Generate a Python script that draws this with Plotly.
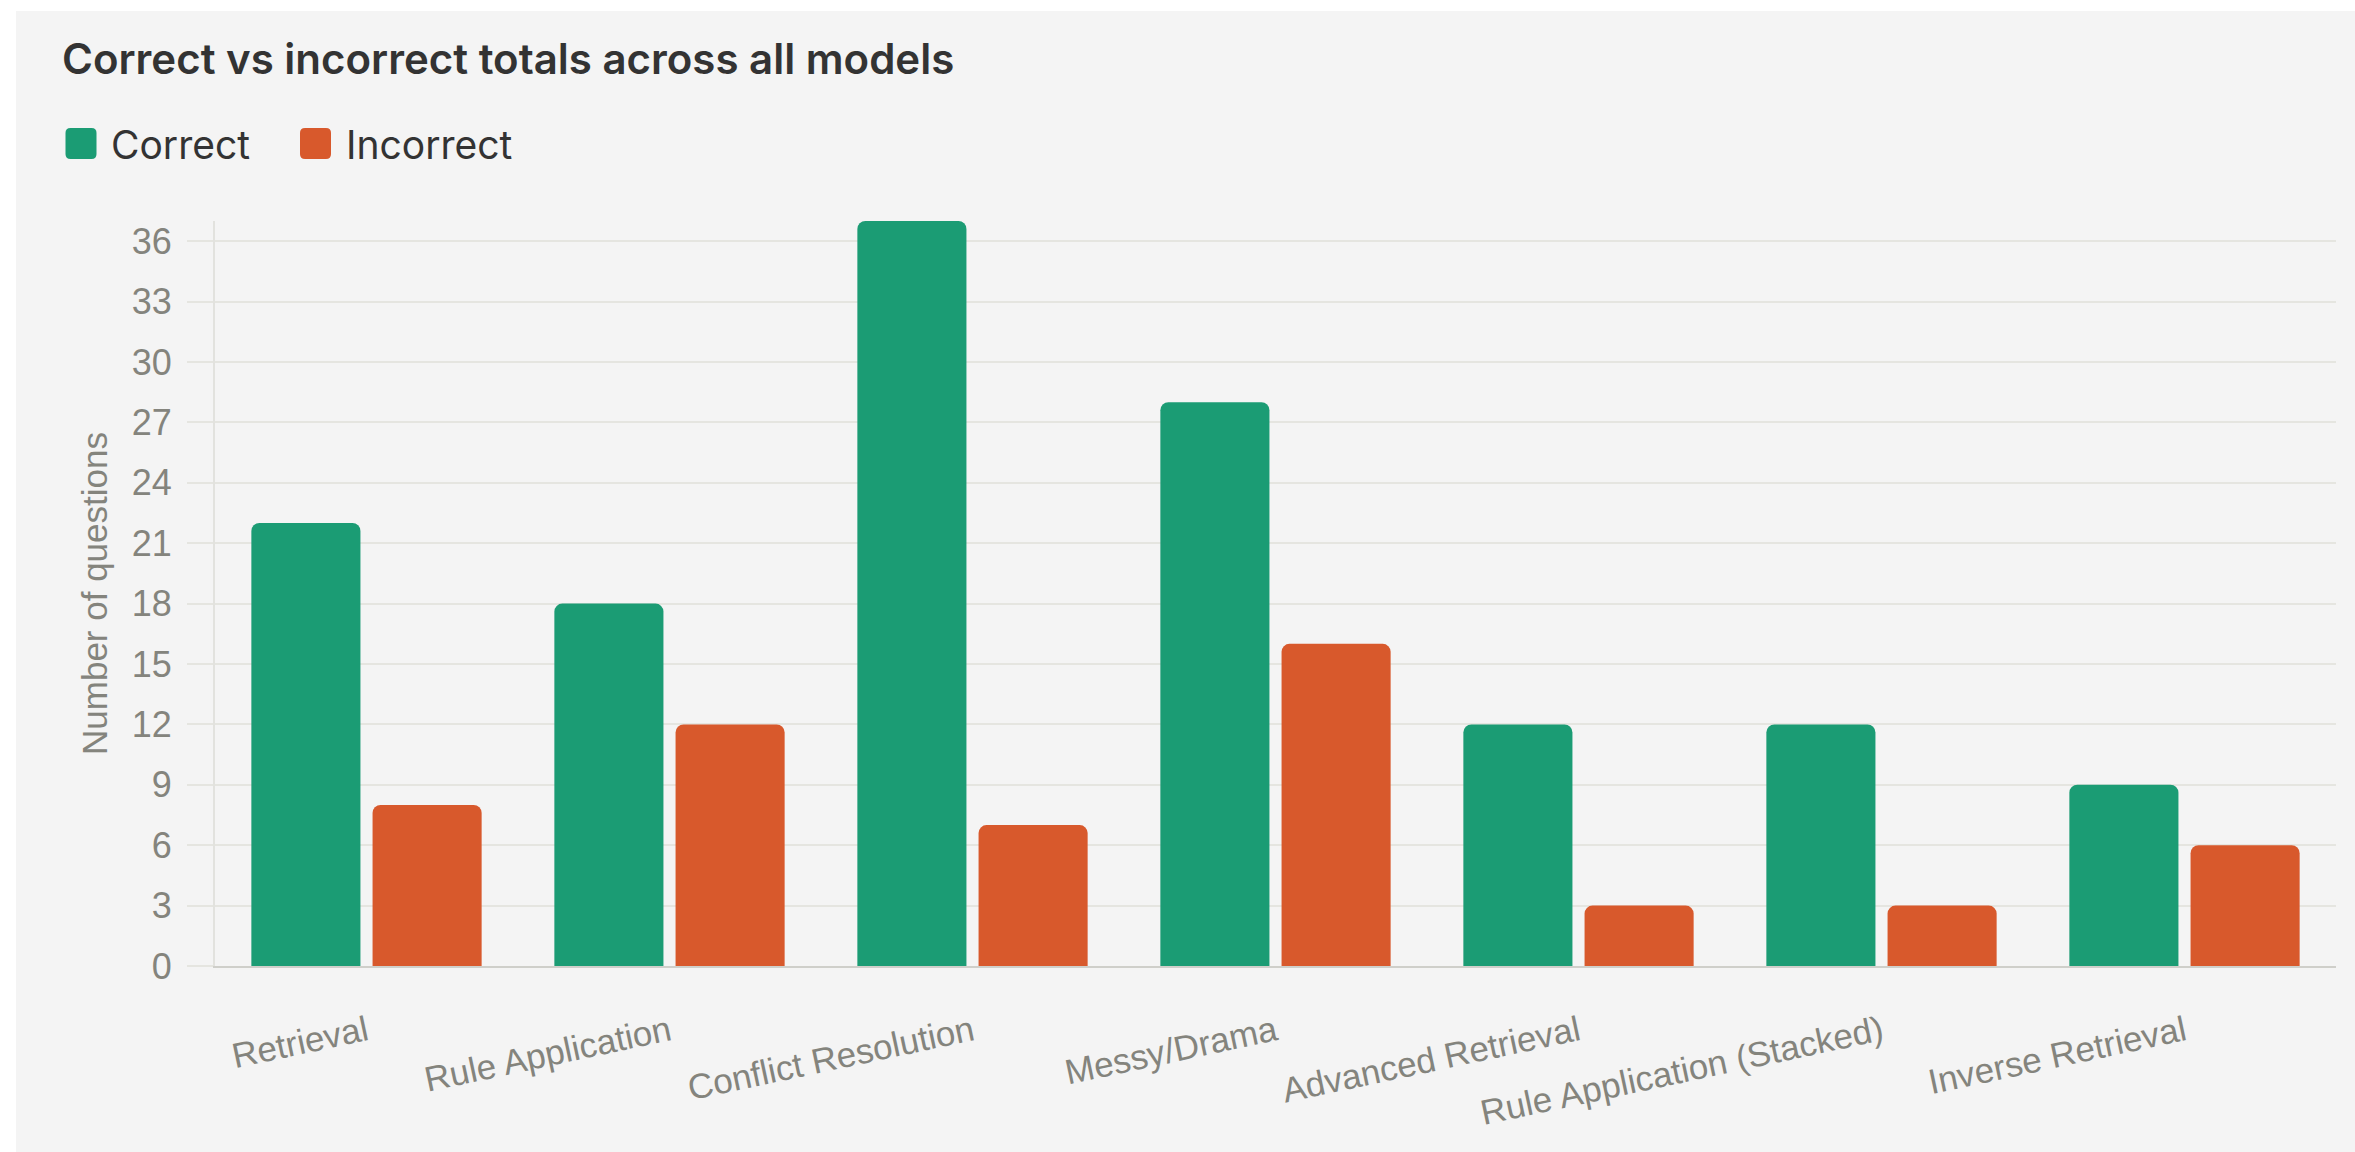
import plotly.graph_objects as go

# Question categories and per-outcome totals summed over every model
categories = [
    "Retrieval",
    "Rule Application",
    "Conflict Resolution",
    "Messy/Drama",
    "Advanced Retrieval",
    "Rule Application (Stacked)",
    "Inverse Retrieval",
]
correct = [22, 18, 37, 28, 12, 12, 9]
incorrect = [8, 12, 7, 16, 3, 3, 6]
y_ticks = [0, 3, 6, 9, 12, 15, 18, 21, 24, 27, 30, 33, 36]

GREEN = "#1b9c74"
ORANGE = "#d8592c"
PANEL = "#f4f4f4"
GRID = "#e5e5e0"
TICK_TEXT = "#84847d"
DARK = "#333333"

W, H = 2355, 1152
M_L, M_R, M_T, M_B = 215, 19, 221, 186
PLOT_W = W - M_L - M_R
PLOT_H = H - M_T - M_B


def px_x(px):
    """Page pixel column -> paper x."""
    return (px - M_L) / PLOT_W


def px_y(py):
    """Page pixel row (from top) -> paper y."""
    return (H - M_B - py) / PLOT_H


fig = go.Figure()
fig.add_trace(go.Bar(name="Correct", x=categories, y=correct,
                     marker=dict(color=GREEN, cornerradius=8, line=dict(width=0))))
fig.add_trace(go.Bar(name="Incorrect", x=categories, y=incorrect,
                     marker=dict(color=ORANGE, cornerradius=8, line=dict(width=0))))

SANS = "Liberation Sans, Arial, Helvetica, sans-serif"

fig.update_layout(
    width=W, height=H,
    margin=dict(l=M_L, r=M_R, t=M_T, b=M_B, pad=0),
    paper_bgcolor=PANEL,
    plot_bgcolor=PANEL,
    showlegend=False,
    barmode="group",
    bargap=0.2,
    bargroupgap=0.1,
    xaxis=dict(
        type="category",
        showgrid=False,
        showline=True, linecolor="#cfcfca", linewidth=2,
        ticks="",
        tickangle=-12,
        tickfont=dict(family=SANS, size=35, color=TICK_TEXT),
        ticklabelstandoff=30,
    ),
    yaxis=dict(
        range=[0, 37],
        tickvals=y_ticks,
        showgrid=True, gridcolor=GRID, gridwidth=2,
        zeroline=False,
        showline=True, linecolor="#e2e2de", linewidth=2,
        ticks="outside", ticklen=26, tickwidth=2, tickcolor=GRID,
        tickfont=dict(family=SANS, size=36, color=TICK_TEXT),
        ticklabelstandoff=8,
        title=dict(text="Number of questions", standoff=14,
                   font=dict(family=SANS, size=35, color=TICK_TEXT)),
    ),
)

# White frame strips along the top and left edges of the page
fig.add_shape(type="rect", xref="paper", yref="paper",
              x0=px_x(-40), x1=px_x(W + 40), y0=px_y(11), y1=px_y(-40),
              fillcolor="white", line=dict(width=0), layer="above")
fig.add_shape(type="rect", xref="paper", yref="paper",
              x0=px_x(-40), x1=px_x(16), y0=px_y(H + 40), y1=px_y(-40),
              fillcolor="white", line=dict(width=0), layer="above")

# Chart heading
fig.add_annotation(text="Correct vs incorrect totals across all models",
                   xref="paper", yref="paper", x=px_x(60), y=px_y(59),
                   xanchor="left", yanchor="middle", showarrow=False,
                   font=dict(family="Inter, Noto Sans, sans-serif", size=42,
                             color=DARK, weight=600))

# Legend swatches (rounded squares) and labels
r, s = 5, 15.5
swatch = (f"M {-s+r},{-s} L {s-r},{-s} Q {s},{-s} {s},{-s+r} L {s},{s-r} "
          f"Q {s},{s} {s-r},{s} L {-s+r},{s} Q {-s},{s} {-s},{s-r} "
          f"L {-s},{-s+r} Q {-s},{-s} {-s+r},{-s} Z")
legend_items = [("Correct", GREEN, 81, 109), ("Incorrect", ORANGE, 315.5, 344)]
for label, color, cx, tx in legend_items:
    fig.add_shape(type="path", xref="paper", yref="paper",
                  xsizemode="pixel", ysizemode="pixel",
                  xanchor=px_x(cx), yanchor=px_y(143.5), path=swatch,
                  fillcolor=color, line=dict(width=0))
    fig.add_annotation(text=label, xref="paper", yref="paper",
                       x=px_x(tx), y=px_y(144), xanchor="left", yanchor="middle",
                       showarrow=False,
                       font=dict(family="Inter, Noto Sans, sans-serif", size=39, color=DARK))

fig.write_html("out.html")
